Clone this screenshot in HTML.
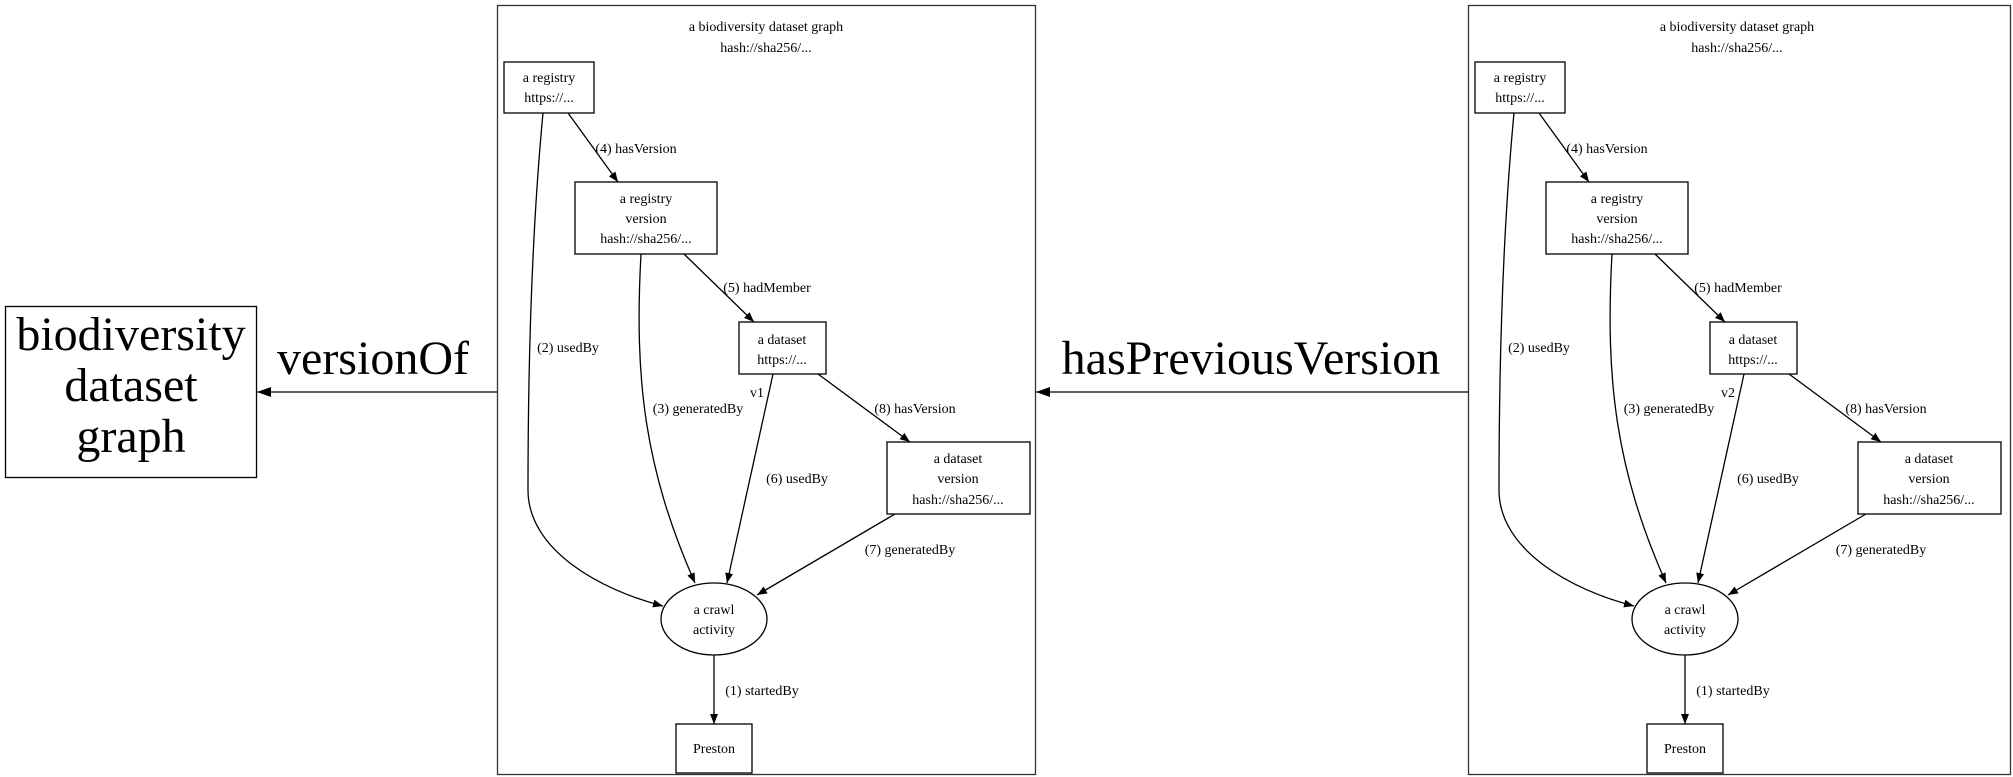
<!DOCTYPE html>
<html><head><meta charset="utf-8"><style>
html,body{margin:0;padding:0;background:#fff;}
svg{display:block;font-family:"Liberation Serif",serif;}
</style></head><body>
<svg width="2013" height="777" viewBox="0 0 2013 777" xmlns="http://www.w3.org/2000/svg">
<defs>
<marker id="ah" markerWidth="10" markerHeight="8" refX="10" refY="4" orient="auto" markerUnits="userSpaceOnUse">
<path d="M0,0 L10,4 L0,8 Z" fill="#000"/>
</marker>
<marker id="ab" markerWidth="14" markerHeight="10" refX="14" refY="5" orient="auto" markerUnits="userSpaceOnUse">
<path d="M0,0 L14,5 L0,10 Z" fill="#000"/>
</marker>
<g id="cl">
<text x="766" y="31" font-size="14" text-anchor="middle">a biodiversity dataset graph</text>
<text x="766" y="52" font-size="14" text-anchor="middle">hash://sha256/...</text>
<g fill="none" stroke="#000" stroke-width="1.3">
<rect x="504" y="62" width="90" height="51"/>
<rect x="575" y="182" width="142" height="72"/>
<rect x="739" y="322" width="87" height="52"/>
<rect x="887" y="442" width="143" height="72"/>
<ellipse cx="714" cy="619" rx="53" ry="36"/>
<rect x="676" y="724" width="76" height="49"/>
<path d="M568,113 L618,182" marker-end="url(#ah)"/>
<path d="M543,113 C530,250 528,400 528,490 C528,550 600,590 663,606" marker-end="url(#ah)"/>
<path d="M641,254 C634,380 645,470 695,583" marker-end="url(#ah)"/>
<path d="M684,254 L754,322" marker-end="url(#ah)"/>
<path d="M773,374 L727,583" marker-end="url(#ah)"/>
<path d="M818,374 L910,442" marker-end="url(#ah)"/>
<path d="M895,514 L757,595" marker-end="url(#ah)"/>
<path d="M714,655 L714,724" marker-end="url(#ah)"/>
</g>
<g font-size="14" text-anchor="middle">
<text x="549" y="82">a registry</text><text x="549" y="102">https://...</text>
<text x="646" y="203">a registry</text><text x="646" y="223">version</text><text x="646" y="243">hash://sha256/...</text>
<text x="782" y="344">a dataset</text><text x="782" y="364">https://...</text>
<text x="958" y="463">a dataset</text><text x="958" y="483">version</text><text x="958" y="504">hash://sha256/...</text>
<text x="714" y="614">a crawl</text><text x="714" y="634">activity</text>
<text x="714" y="753">Preston</text>
</g>
<g font-size="14" text-anchor="middle">
<text x="636" y="153">(4) hasVersion</text>
<text x="767" y="292">(5) hadMember</text>
<text x="568" y="352">(2) usedBy</text>
<text x="698" y="413">(3) generatedBy</text>
<text x="915" y="413">(8) hasVersion</text>
<text x="797" y="483">(6) usedBy</text>
<text x="910" y="554">(7) generatedBy</text>
<text x="762" y="695">(1) startedBy</text>
</g>
</g>
</defs>
<rect x="497.5" y="5.5" width="538" height="769" fill="none" stroke="#333" stroke-width="1.3"/>
<rect x="1468.5" y="5.5" width="542" height="769" fill="none" stroke="#333" stroke-width="1.3"/>
<use href="#cl"/>
<text x="757" y="397" font-size="14" text-anchor="middle">v1</text>
<g transform="translate(971,0)"><use href="#cl"/>
<text x="757" y="397" font-size="14" text-anchor="middle">v2</text></g>
<rect x="5.5" y="306.5" width="251" height="171" fill="none" stroke="#000" stroke-width="1.3"/>
<g font-size="48" text-anchor="middle">
<text x="131" y="350">biodiversity</text>
<text x="131" y="401">dataset</text>
<text x="131" y="452">graph</text>
<text x="373" y="374">versionOf</text>
<text x="1251" y="374">hasPreviousVersion</text>
</g>
<path d="M497,392 L257,392" stroke="#000" stroke-width="1.3" marker-end="url(#ab)"/>
<path d="M1468,392 L1036,392" stroke="#000" stroke-width="1.3" marker-end="url(#ab)"/>
</svg>
</body></html>
